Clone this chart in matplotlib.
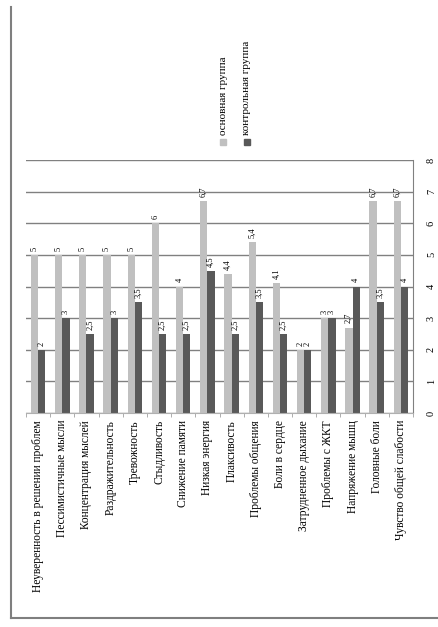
import numpy as np
import matplotlib
matplotlib.use('Agg')
import matplotlib.pyplot as plt
from matplotlib.lines import Line2D
from matplotlib.patches import Rectangle

categories = ['Неуверенность в решении проблем', 'Пессимистичные мысли',
              'Концентрация мыслей', 'Раздражительность', 'Тревожность',
              'Стыдливость', 'Снижение памяти', 'Низкая энергия', 'Плаксивость',
              'Проблемы общения', 'Боли в сердце', 'Затрудненное дыхание',
              'Проблемы с ЖКТ', 'Напряжение мышц', 'Головные боли',
              'Чувство общей слабости']
main_group = [5, 5, 5, 5, 5, 6, 4, 6.7, 4.4, 5.4, 4.1, 2, 3, 2.7, 6.7, 6.7]
control_group = [2, 3, 2.5, 3, 3.5, 2.5, 2.5, 4.5, 2.5, 3.5, 2.5, 2, 3, 4, 3.5, 4]
legend_labels = ['основная группа', 'контрольная группа']
value_ticks = [0, 1, 2, 3, 4, 5, 6, 7, 8]

light = '#c0c0c0'
dark = '#595959'
W, H = 439, 627

plt.rcParams['font.family'] = ['Liberation Serif', 'DejaVu Serif']

fig = plt.figure(figsize=(W / 100, H / 100), dpi=100)
ax = fig.add_axes([26 / W, 1 - 413 / H, (413 - 26) / W, (413 - 160) / H])

x = np.arange(len(categories))
w = 0.3
bars_main = ax.bar(x - w / 2, main_group, w, color=light)
bars_ctrl = ax.bar(x + w / 2, control_group, w, color=dark)


def fmt(v):
    return f'{v:g}'.replace('.', ',')


ax.bar_label(bars_main, labels=[fmt(v) for v in main_group], rotation=90,
             padding=3, fontsize=6)
ax.bar_label(bars_ctrl, labels=[fmt(v) for v in control_group], rotation=90,
             padding=3, fontsize=6)

ax.set_xlim(-0.5, len(categories) - 0.5)
ax.set_ylim(0, 8)
ax.set_yticks(value_ticks)
ax.set_yticklabels([str(t) for t in value_ticks], rotation=90, va='center',
                   fontsize=7.5)
ax.yaxis.tick_right()
ax.tick_params(axis='y', length=0, pad=10)
ax.grid(axis='y', color='#808080', lw=1)
ax.set_axisbelow(True)

ax.set_xticks(x)
ax.set_xticklabels(categories, rotation=90, fontsize=8.3)
ax.set_xticks(np.arange(-0.5, len(categories)), minor=True)
ax.tick_params(axis='x', which='major', length=0, pad=5)
ax.tick_params(axis='x', which='minor', length=3, color='#a0a0a0')

for s in ['top', 'left']:
    ax.spines[s].set_visible(False)
ax.spines['right'].set_color('#808080')
ax.spines['bottom'].set_color('#b0b0b0')

# legend drawn by hand, rotated like the rest of the chart
for xc, col, lab in [(223, light, legend_labels[0]), (247, dark, legend_labels[1])]:
    fig.add_artist(Rectangle(((xc - 3) / W, 1 - 145 / H), 6 / W, 6 / H,
                             transform=fig.transFigure, color=col))
    fig.text(xc / W, 1 - 135 / H, lab, rotation=90, ha='center', va='bottom',
             fontsize=8)

# outer frame (only left and bottom edges visible)
fig.add_artist(Line2D([11 / W, 11 / W], [1 - 7 / H, 1 - 618 / H],
                      color='#7f7f7f', lw=1.5))
fig.add_artist(Line2D([11 / W, 1], [1 - 618 / H, 1 - 618 / H],
                      color='#7f7f7f', lw=1.5))

fig.savefig('out.png', dpi=100)
